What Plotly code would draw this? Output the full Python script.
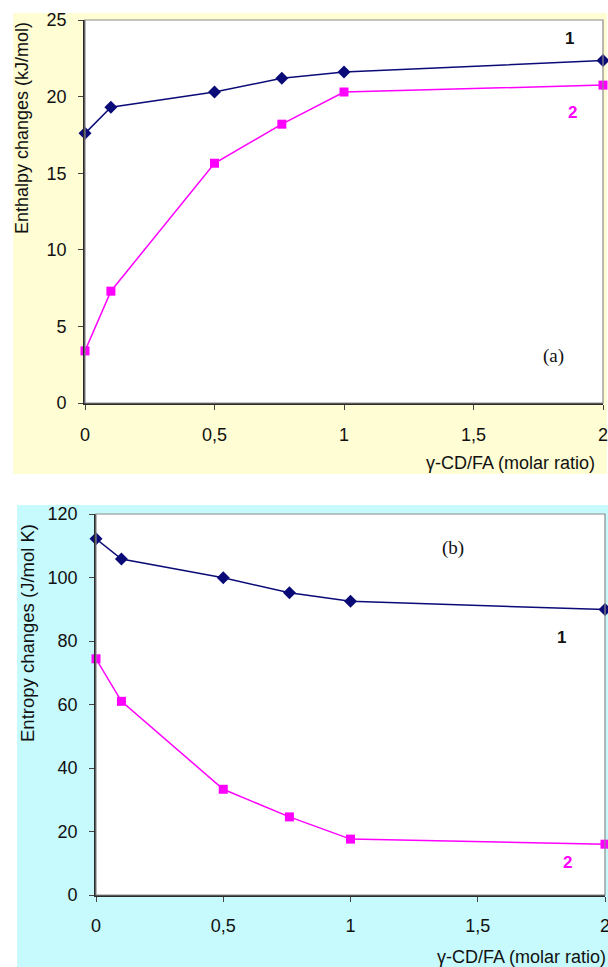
import plotly.graph_objects as go

W, H = 608, 967

ratio = [0, 0.1, 0.5, 0.76, 1, 2]
enthalpy_1 = [17.6, 19.3, 20.3, 21.2, 21.6, 22.35]
enthalpy_2 = [3.4, 7.3, 15.65, 18.2, 20.3, 20.75]
entropy_1 = [112.2, 105.8, 99.9, 95.2, 92.5, 89.9]
entropy_2 = [74.4, 61.0, 33.3, 24.6, 17.6, 16.0]

xtick_vals = [0, 0.5, 1, 1.5, 2]
xtick_text = ["0", "0,5", "1", "1,5", "2"]
ytick_top = [0, 5, 10, 15, 20, 25]
ytick_bot = [0, 20, 40, 60, 80, 100, 120]

NAVY = "#0b0b78"
MAG = "#ff00ff"
FONT = "Liberation Sans, Arial, sans-serif"
SERIF = "Liberation Serif, Times New Roman, serif"

def px(x):
    return x / W

def py(y):
    return 1 - y / H

fig = go.Figure()

# top panel
fig.add_trace(go.Scatter(x=ratio, y=enthalpy_1, mode="lines+markers", xaxis="x", yaxis="y",
                         line=dict(color=NAVY, width=1.5),
                         marker=dict(symbol="diamond", size=10, color=NAVY), cliponaxis=False))
fig.add_trace(go.Scatter(x=ratio, y=enthalpy_2, mode="lines+markers", xaxis="x", yaxis="y",
                         line=dict(color=MAG, width=1.5),
                         marker=dict(symbol="square", size=9, color=MAG), cliponaxis=False))
# bottom panel
fig.add_trace(go.Scatter(x=ratio, y=entropy_1, mode="lines+markers", xaxis="x2", yaxis="y2",
                         line=dict(color=NAVY, width=1.5),
                         marker=dict(symbol="diamond", size=10, color=NAVY), cliponaxis=False))
fig.add_trace(go.Scatter(x=ratio, y=entropy_2, mode="lines+markers", xaxis="x2", yaxis="y2",
                         line=dict(color=MAG, width=1.5),
                         marker=dict(symbol="square", size=9, color=MAG), cliponaxis=False))

axis_common = dict(showgrid=False, zeroline=False, showline=True, linecolor="#2a2a2a", linewidth=1.6,
                   ticks="outside", ticklen=5, tickcolor="#444444", tickwidth=1,
                   automargin=False, ticklabeloverflow="allow",
                   tickfont=dict(family=FONT, size=18, color="#111111"))

fig.update_layout(
    width=W, height=H,
    margin=dict(l=0, r=0, t=0, b=0, autoexpand=False),
    paper_bgcolor="white", plot_bgcolor="white",
    showlegend=False,
    xaxis=dict(domain=[px(85), px(603)], range=[0, 2], anchor="y",
               tickvals=xtick_vals, ticktext=xtick_text, ticklabelstandoff=10, **axis_common),
    yaxis=dict(domain=[py(403), py(20)], range=[0, 25], anchor="x",
               tickvals=ytick_top, ticklabelstandoff=8, **axis_common),
    xaxis2=dict(domain=[px(96), px(605)], range=[0, 2], anchor="y2",
                tickvals=xtick_vals, ticktext=xtick_text, ticklabelstandoff=9, **axis_common),
    yaxis2=dict(domain=[py(895), py(514)], range=[0, 120], anchor="x2",
                tickvals=ytick_bot, ticklabelstandoff=8, **axis_common),
)

shapes = [
    dict(type="rect", xref="paper", yref="paper", x0=px(13), x1=px(607), y0=py(474), y1=py(13),
         fillcolor="#fefdd3", line=dict(width=0), layer="below"),
    dict(type="rect", xref="paper", yref="paper", x0=px(17), x1=px(608), y0=py(967), y1=py(505),
         fillcolor="#c6fafc", line=dict(width=0), layer="below"),
    dict(type="rect", xref="x domain", yref="y domain", x0=0, x1=1, y0=0, y1=1,
         fillcolor="white", line=dict(width=0), layer="below"),
    dict(type="rect", xref="x2 domain", yref="y2 domain", x0=0, x1=1, y0=0, y1=1,
         fillcolor="white", line=dict(width=0), layer="below"),
    dict(type="rect", xref="x domain", yref="y domain", x0=0, x1=1, y0=0, y1=1,
         line=dict(color="#8a8a8a", width=1.2), layer="above"),
    dict(type="rect", xref="x2 domain", yref="y2 domain", x0=0, x1=1, y0=0, y1=1,
         line=dict(color="#8a8a8a", width=1.2), layer="above"),
]
fig.update_layout(shapes=shapes)

ann = []
def txt(x, y, t, size=15, color="#111111", family=FONT, xanchor="center", **kw):
    ann.append(dict(xref="paper", yref="paper", x=px(x), y=py(y), text=t, showarrow=False,
                    xanchor=xanchor, yanchor="middle",
                    font=dict(family=family, size=size, color=color), **kw))

txt(22, 128, "Enthalpy changes (kJ/mol)", size=18, textangle=-90)
txt(27, 633, "Entropy changes (J/mol K)", size=18.5, textangle=-90)
txt(597, 463, "γ-CD/FA (molar ratio)", size=18, xanchor="right")
txt(608, 957, "γ-CD/FA (molar ratio)", size=18, xanchor="right")
txt(569, 38, "<b>1</b>", size=17)
txt(572, 112, "<b>2</b>", size=17, color=MAG)
txt(561, 637, "<b>1</b>", size=17)
txt(567, 862, "<b>2</b>", size=17, color=MAG)
txt(553, 356, "(a)", size=19, family=SERIF)
txt(453, 548, "(b)", size=19, family=SERIF)
fig.update_layout(annotations=ann)

fig.write_html("out.html")
